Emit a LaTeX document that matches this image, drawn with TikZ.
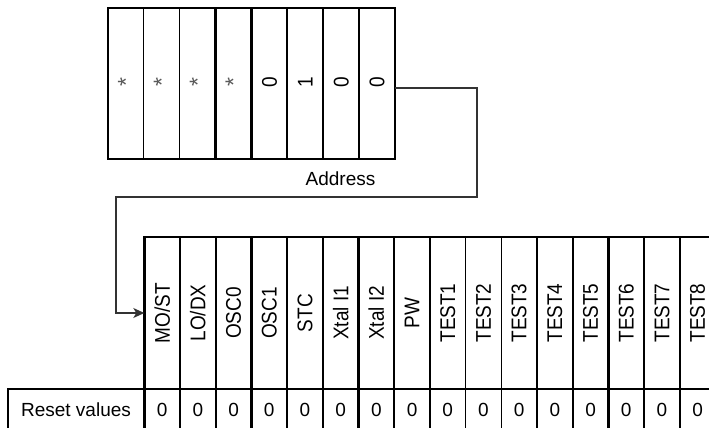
\documentclass[tikz,border=0pt]{standalone}
\usepackage{fontspec}
\usepackage{graphicx}
\setmainfont{Liberation Sans}
\usetikzlibrary{arrows.meta}

\newcommand{\cellfont}{\fontsize{19pt}{22pt}\selectfont}
\newcommand{\starfont}{\fontsize{23pt}{26pt}\selectfont}
% widen the upright glyphs a little before they are turned on their side
\newcommand{\tallglyphs}[1]{\scalebox{1}[1.12]{#1}}

\tikzset{
  lbl/.style={font=\cellfont, inner sep=0pt, text=black},
  vlbl/.style={lbl, rotate=90},
  starlbl/.style={vlbl, font=\starfont, text=black!65},
  frame/.style={line width=2.5pt},
  conn/.style={line width=1.2pt, draw=black!80, -{Stealth[length=11pt,width=10pt,inset=3pt]}},
}

\begin{document}
\begin{tikzpicture}[x=1pt, y=-1pt, line cap=rect]
  \clip (0,0) rectangle (709,428);
  \fill[white] (0,0) rectangle (709,428);

  % ---------- address byte (top) ----------
  \def\ax{108}\def\aw{35.875}
  \node[minimum width=287pt, minimum height=151pt, inner sep=0pt] (addr) at (251.5,83.5) {};
  \foreach \i/\w in {1/1.2, 2/1.2, 3/2.3, 4/2.3, 5/1.8, 6/1.8, 7/1.8}
    \draw[line width=\w pt] (\ax+\i*\aw, 8) -- (\ax+\i*\aw, 159);
  \draw[frame] (addr.north west) rectangle (addr.south east);
  \foreach \t [count=\i] in {*,*,*,*,0,1,0,0} {
    \ifnum\i<5
      \node[starlbl] (a\i) at (\ax+\i*\aw-0.5*\aw, 82) {\t};
    \else
      \node[vlbl] (a\i) at (\ax+\i*\aw-0.5*\aw, 82) {\tallglyphs{\t}};
    \fi
  }
  \node[lbl] (addrlabel) at (340.5,179) {Address};

  % ---------- register bits (bottom) ----------
  \def\rx{144.3}\def\rw{35.7}
  \foreach \i/\w in {1/1.2, 2/2.3, 3/2.3, 4/2.3, 5/1.8, 6/2.3, 7/2.3, 8/2.3,
                     9/1.2, 10/1.2, 11/2.3, 12/2.3, 13/2.3, 14/2.3, 15/2.3}
    \draw[line width=\w pt] (\rx+\i*\rw, 237) -- (\rx+\i*\rw, 432);
  \draw[frame] (720,237) -- (\rx,237) -- (\rx,432);
  \draw[frame] (8,432) -- (8,389) -- (720,389);

  \foreach \t [count=\i] in {MO/ST, LO/DX, OSC0, OSC1, STC, Xtal I1, Xtal I2, PW,
                             TEST1, TEST2, TEST3, TEST4, TEST5, TEST6, TEST7, TEST8} {
    \node[vlbl] (r\i) at (\rx+\i*\rw-0.5*\rw, 313) {\tallglyphs{\t}};
    \node[lbl] (v\i) at (\rx+\i*\rw-0.5*\rw, 410) {0};
  }
  \node[lbl] (resetlabel) at (76,410) {Reset values};

  % ---------- connector from address to first bit ----------
  \coordinate (bendA) at (477,197);
  \coordinate (bendB) at (116,197);
  \coordinate (entry) at (\rx,313);
  \draw[conn]
    ([yshift=-4.5pt]addr.east) -| (bendA) -- (bendB) |- (entry);
\end{tikzpicture}
\end{document}
